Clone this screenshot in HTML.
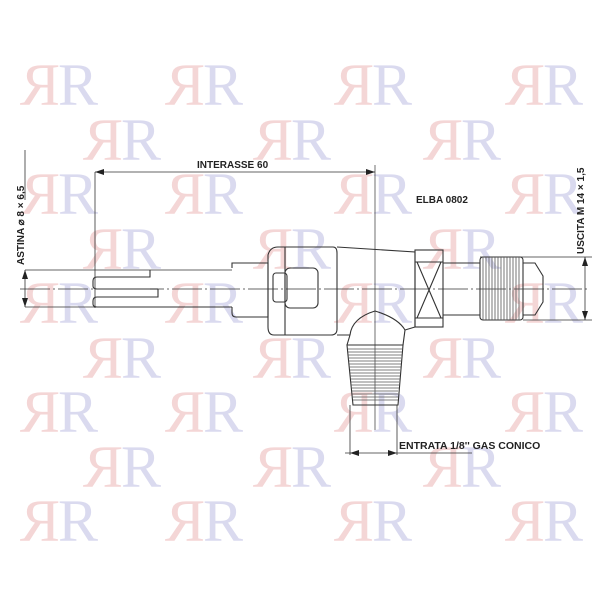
<!DOCTYPE html>
<html><head><style>
html,body{margin:0;padding:0;background:#fff;width:600px;height:600px;overflow:hidden}
svg{display:block}
.w1{fill:#f2cccc}
.w2{fill:#d2d2ec}
text.t{font-family:"Liberation Sans",sans-serif;font-weight:bold;font-size:10px;fill:#222}
</style></head><body>
<svg width="600" height="600" viewBox="0 0 600 600" xmlns="http://www.w3.org/2000/svg">
<defs>
<g id="rr">
<text x="0" y="0" transform="translate(-2,0) scale(-1,1)" font-size="60" class="w1" style="font-family:'Liberation Serif',serif">R</text>
<text x="-4" y="0" font-size="60" class="w2" style="font-family:'Liberation Serif',serif">R</text>
</g>
</defs>
<g opacity="0.8">
<use href="#rr" x="62" y="105"/><use href="#rr" x="207" y="105"/><use href="#rr" x="376" y="105"/><use href="#rr" x="547" y="105"/>
<use href="#rr" x="125" y="160"/><use href="#rr" x="295" y="160"/><use href="#rr" x="465" y="160"/>
<use href="#rr" x="62" y="214"/><use href="#rr" x="207" y="214"/><use href="#rr" x="376" y="214"/><use href="#rr" x="547" y="214"/>
<use href="#rr" x="125" y="269"/><use href="#rr" x="295" y="269"/><use href="#rr" x="465" y="269"/>
<use href="#rr" x="62" y="323"/><use href="#rr" x="207" y="323"/><use href="#rr" x="376" y="323"/><use href="#rr" x="547" y="323"/>
<use href="#rr" x="125" y="378"/><use href="#rr" x="295" y="378"/><use href="#rr" x="465" y="378"/>
<use href="#rr" x="62" y="432"/><use href="#rr" x="207" y="432"/><use href="#rr" x="376" y="432"/><use href="#rr" x="547" y="432"/>
<use href="#rr" x="125" y="487"/><use href="#rr" x="295" y="487"/><use href="#rr" x="465" y="487"/>
<use href="#rr" x="62" y="541"/><use href="#rr" x="207" y="541"/><use href="#rr" x="376" y="541"/><use href="#rr" x="547" y="541"/>
</g>

<g fill="none" stroke="#333" stroke-width="1.1">
<line x1="20" y1="289" x2="590" y2="289" stroke-width="0.7" stroke-dasharray="30 3 2 3"/>
<line x1="375" y1="165" x2="375" y2="430" stroke-width="0.7"/>
<line x1="95" y1="172" x2="375" y2="172" stroke-width="0.8"/>
<line x1="95" y1="172" x2="95" y2="308" stroke-width="0.8"/>
<line x1="25" y1="270" x2="232" y2="270" stroke-width="0.8"/>
<line x1="25" y1="307" x2="95" y2="307" stroke-width="0.8"/>
<line x1="25" y1="270" x2="25" y2="307" stroke-width="0.8"/>
<line x1="25" y1="150" x2="25" y2="200" stroke-width="0.8"/>
<path d="M150 270 V277 H97 Q93 277 93 281 V286 Q93 289 97 289 H150"/>
<path d="M158 289 V297 H97 Q93 297 93 301 V304 Q93 307 97 307 H232"/>
<line x1="150" y1="289" x2="158" y2="289"/>
<path d="M232 268 V263 Q232 263 236 263 H268 V317 H236 Q232 317 232 313 V307"/>
<path d="M268 255 Q270 247 278 247 H333 Q337 247 337 253 V329 Q337 335 331 335 H274 Q268 335 268 327 Z"/>
<line x1="285" y1="247" x2="285" y2="335"/>
<rect x="285" y="268" width="33" height="40" rx="5"/>
<rect x="273" y="273" width="14" height="29" rx="3"/>
<path d="M337 247 L415 252 V327 L405 330 M337 335 H350"/>
<path d="M350 335 Q352 318 375 311 Q398 318 405 330"/>
<path d="M350 335 L347 345 M405 330 L403 345"/>
<rect x="415" y="250" width="28" height="77"/>
<path d="M417 262 L441 318 M441 262 L417 318 M415 262 H443 M415 318 H443"/>
<path d="M443 263 H480 M443 315 H480"/>
<rect x="480" y="257" width="43" height="63" rx="3"/>
<path d="M523 263 H535 L543 276 V302 L535 315 H523"/>
<path d="M347 345 H403 L398 405 H353 Z"/>
<line x1="480" y1="257" x2="592" y2="257" stroke-width="0.8"/>
<line x1="523" y1="320" x2="592" y2="320" stroke-width="0.8"/>
<line x1="585" y1="257" x2="585" y2="320" stroke-width="0.8"/>
<line x1="350" y1="405" x2="350" y2="455" stroke-width="0.8"/>
<line x1="397" y1="405" x2="397" y2="455" stroke-width="0.8"/>
<line x1="345" y1="453" x2="472" y2="453" stroke-width="0.8"/>
</g>
<g stroke="#555" stroke-width="0.8">
<path d="M483 257V320M486 257V320M489 257V320M492 257V320M495 257V320M498 257V320M501 257V320M504 257V320M507 257V320M510 257V320M513 257V320M516 257V320M519 257V320"/>
<path d="M348 349H402M348 352H402M348 355H402M349 358H401M349 361H401M349 364H401M349 367H401M350 370H400M350 373H400M350 376H400M351 379H400M351 382H399M351 385H399M352 388H399M352 391H398M352 394H398M352 397H398M353 400H398"/>
</g>
<g fill="#222">
<path d="M95 172 l9 -3 v6 z"/><path d="M375 172 l-9 -3 v6 z"/>
<path d="M25 270 l-3 9 h6 z"/><path d="M25 307 l-3 -9 h6 z"/>
<path d="M585 257 l-3 9 h6 z"/><path d="M585 320 l-3 -9 h6 z"/>
<path d="M350 453 l9 -3 v6 z"/><path d="M397 453 l-9 -3 v6 z"/>
</g>
<text class="t" x="197" y="168">INTERASSE 60</text>
<text class="t" x="416" y="203">ELBA 0802</text>
<text class="t" x="399" y="449" style="font-size:10.5px">ENTRATA 1/8'' GAS CONICO</text>
<text class="t" transform="translate(24,265) rotate(-90)">ASTINA ⌀ 8 × 6,5</text>
<text class="t" transform="translate(584,254) rotate(-90)">USCITA M 14 × 1,5</text>
</svg>
</body></html>
